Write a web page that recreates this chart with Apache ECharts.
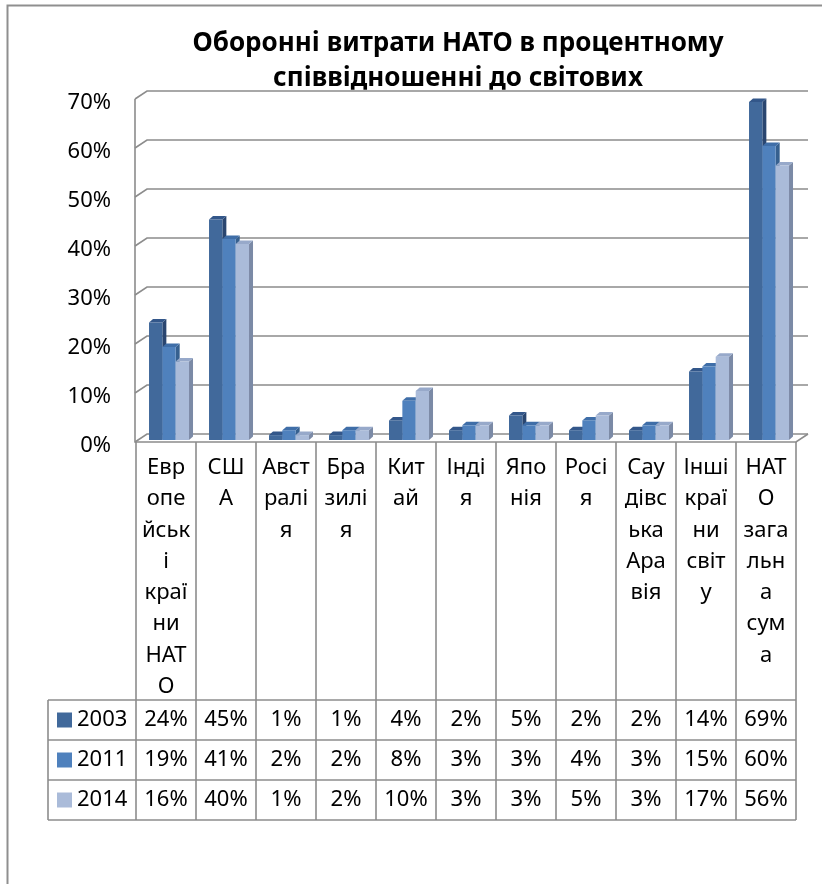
<!DOCTYPE html>
<html>
<head>
<meta charset="utf-8">
<script src="https://cdn.jsdelivr.net/npm/echarts@6/dist/echarts.min.js"></script>
<style>
html,body{margin:0;padding:0;background:#fff;}
#chart{width:822px;height:884px;}
</style>
</head>
<body>
<div id="chart"></div>
<script>
// ---- data ----
const titleText = 'Оборонні витрати НАТО в процентному\nспіввідношенні до світових';
const categories = ['Европейські країни НАТО','США','Австралія','Бразилія','Китай','Індія','Японія','Росія','Саудівська Аравія','Інші країни світу','НАТО загальна сума'];
const categoryLines = [
  ['Евр','опе','йськ','і','краї','ни','НАТ','О'],
  ['СШ','А'],
  ['Авст','ралі','я'],
  ['Бра','зилі','я'],
  ['Кит','ай'],
  ['Інді','я'],
  ['Япо','нія'],
  ['Росі','я'],
  ['Сау','дівс','ька','Ара','вія'],
  ['Інші','краї','ни','світ','у'],
  ['НАТ','О','зага','льн','а','сум','а']
];
const years = ['2003','2011','2014'];
const values2003 = [24,45,1,1,4,2,5,2,2,14,69];
const values2011 = [19,41,2,2,8,3,3,4,3,15,60];
const values2014 = [16,40,1,2,10,3,3,5,3,17,56];
const yTicks = [0,10,20,30,40,50,60,70];

// ---- style ----
const FONT = 'Noto Sans';
const FS = 22;
const LINE = '#8c8c8c';
const palette = [
  {front:'#41699b', top:'#33578a', side:'#2a4670'},
  {front:'#4f81bd', top:'#3f6ea8', side:'#36608f'},
  {front:'#aabbd9', top:'#97a9ca', side:'#7b8aa6'}
];
const seriesValues = [values2003, values2011, values2014];
const DX = 4, DY = 3.5;          // bar depth
const WX = 12, WY = 8;           // wall depth
const HEADER_H = 258, ROW_H = 40, LEGEND_LEFT = 48;

function barRenderer(s) {
  return function (params, api) {
    const i = api.value(0), v = api.value(1);
    const top = api.coord([i, v]);
    const base = api.coord([i, 0]);
    const bw = api.size([1, 0])[0];
    const w = bw * 0.2222;
    const xl = top[0] - bw * 0.283 + s * w;
    const xr = xl + w;
    const yt = top[1], yb = base[1];
    const c = palette[s];
    const tableTop = yb + 2;
    const rowY = tableTop + HEADER_H + ROW_H / 2 + s * ROW_H;
    return {
      type: 'group',
      children: [
        {type:'polygon', shape:{points:[[xr,yb],[xr,yt],[xr+DX,yt-DY],[xr+DX,yb-DY]]}, style:{fill:c.side}},
        {type:'polygon', shape:{points:[[xl,yt],[xl+DX,yt-DY],[xr+DX,yt-DY],[xr,yt]]}, style:{fill:c.top}},
        {type:'rect', shape:{x:xl, y:yt, width:w, height:yb-yt}, style:{fill:c.front}},
        {type:'text', x: base[0], y: rowY, style:{text: v + '%', fill:'#000', fontSize:FS, fontFamily:FONT, align:'center', verticalAlign:'middle'}}
      ]
    };
  };
}

function gridRenderer(params, api) {
  const v = api.value(1);
  const y = api.coord([0, v])[1];
  const L = params.coordSys.x - 1;
  const R = params.coordSys.x + params.coordSys.width;
  const st = {stroke: LINE, lineWidth: 1.6, fill: null};
  const children = [
    {type:'polyline', shape:{points:[[L, y+2],[L+WX, y+2-WY],[R+WX, y+2-WY]]}, style:st}
  ];
  if (v === 0) {
    const yTop = api.coord([0, yTicks[yTicks.length-1]])[1];
    children.push({type:'polyline', shape:{points:[[L, yTop+2],[L, y+2],[R, y+2],[R+WX, y+2-WY]]}, style:st});
  }
  return {type:'group', children};
}

function tableRenderer(params, api) {
  const i = api.value(0);
  const c = api.coord([i, 0]);
  const bw = api.size([1, 0])[0];
  const xl = c[0] - bw / 2;
  const top = c[1] + 2;
  const bottom = top + HEADER_H + ROW_H * years.length;
  const R = params.coordSys.x + params.coordSys.width;
  const st = {stroke: LINE, lineWidth: 1.6, fill: null};
  const children = [{type:'line', shape:{x1:xl, y1:top, x2:xl, y2:bottom}, style:st}];
  if (i === categories.length - 1) {
    children.push({type:'line', shape:{x1:xl+bw, y1:top, x2:xl+bw, y2:bottom}, style:st});
  }
  if (i === 0) {
    for (let r = 0; r <= years.length; r++) {
      const yy = top + HEADER_H + r * ROW_H;
      children.push({type:'line', shape:{x1:LEGEND_LEFT, y1:yy, x2:R, y2:yy}, style:st});
    }
    children.push({type:'line', shape:{x1:LEGEND_LEFT, y1:top+HEADER_H, x2:LEGEND_LEFT, y2:bottom}, style:st});
  }
  return {type:'group', children};
}

const series = [
  {type:'custom', name:'grid', z:1, silent:true, renderItem:gridRenderer, data:yTicks.map(v => [0, v]), encode:{x:0, y:1}},
  {type:'custom', name:'table', z:1, silent:true, renderItem:tableRenderer, data:categories.map((c, i) => [i, 0]), encode:{x:0, y:1}}
];
years.forEach((yr, s) => {
  series.push({
    type:'custom', name: yr, z: 2 + s,
    itemStyle:{color: palette[s].front},
    renderItem: barRenderer(s),
    data: seriesValues[s].map((v, i) => [i, v]),
    encode:{x:0, y:1}
  });
});

const chart = echarts.init(document.getElementById('chart'), null, {renderer:'canvas'});
chart.setOption({
  animation:false,
  color: palette.map(p => p.front),
  title:{
    text: titleText, left: 453, top: 21, textAlign:'center',
    textStyle:{fontFamily:FONT, fontSize:26, fontWeight:'bold', color:'#000', lineHeight:35}
  },
  legend:{
    data: years, orient:'vertical', left:57, top:708, padding:0,
    itemWidth:15, itemHeight:15, itemGap:16, icon:'rect',
    textStyle:{fontFamily:FONT, fontSize:FS, lineHeight:24, color:'#000'}
  },
  graphic:[
    {type:'rect', left:5, top:3, shape:{x:0, y:0, width:1000, height:1000}, style:{fill:null, stroke:'#8f8f8f', lineWidth:2}, silent:true, z:-1}
  ],
  grid:{left:136, top:97, width:660, height:343, containLabel:false},
  xAxis:{
    type:'category', data: categories,
    axisLine:{show:false}, axisTick:{show:false}, splitLine:{show:false},
    axisLabel:{
      interval:0, margin:12, fontFamily:FONT, fontSize:FS, lineHeight:31.3, color:'#000',
      formatter:(val, idx) => categoryLines[idx].join('\n')
    }
  },
  yAxis:{
    type:'value', min:0, max:70, interval:10,
    axisLine:{show:false}, axisTick:{show:false}, splitLine:{show:false},
    axisLabel:{formatter:'{value}%', margin:25, fontFamily:FONT, fontSize:FS, color:'#000', verticalAlign:'top', lineHeight:12}
  },
  series
});
</script>
</body>
</html>
